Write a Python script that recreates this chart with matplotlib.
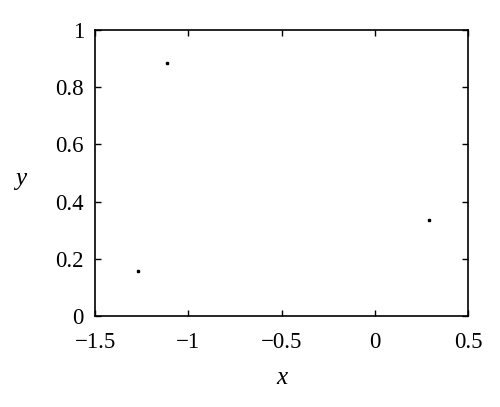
import matplotlib.pyplot as plt

# Point data
x_vals = [-1.27, -1.116, 0.293]
y_vals = [0.157, 0.885, 0.335]

x_ticks = [-1.5, -1, -0.5, 0, 0.5]
x_labels = ["\u22121.5", "\u22121", "\u22120.5", "0", "0.5"]
y_ticks = [0, 0.2, 0.4, 0.6, 0.8, 1]
y_labels = ["0", "0.2", "0.4", "0.6", "0.8", "1"]

plt.rcParams["font.family"] = ["Liberation Serif", "DejaVu Serif"]

fig = plt.figure(figsize=(5, 4.07), dpi=100)
ax = fig.add_axes([0.19, 0.224, 0.746, 0.702])

ax.plot(x_vals, y_vals, linestyle="none", marker="s", markersize=2,
        color="black")

ax.set_xlim(-1.5, 0.5)
ax.set_ylim(0, 1)
ax.set_xticks(x_ticks)
ax.set_xticklabels(x_labels)
ax.set_yticks(y_ticks)
ax.set_yticklabels(y_labels)

ax.tick_params(direction="in", length=4, width=1, top=True, right=True,
               labelsize=16.5)
ax.tick_params(axis="x", pad=12)
ax.tick_params(axis="y", pad=8)
for s in ax.spines.values():
    s.set_linewidth(1.2)

ax.set_xlabel("x", fontsize=18, style="italic", labelpad=10)
ax.set_ylabel("y", fontsize=18, style="italic", rotation=0, va="center",
              ha="center")
ax.yaxis.set_label_coords(-0.2, 0.48)

plt.savefig("out.png", dpi=100)
